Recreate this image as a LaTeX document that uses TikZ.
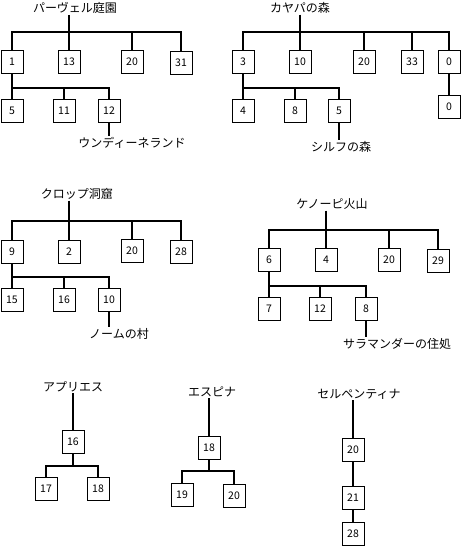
\documentclass[tikz,border=0pt]{standalone}
\usepackage{fontspec}
\setmainfont{Noto Sans CJK JP}
\usetikzlibrary{positioning}

\tikzset{
    box/.style={draw, line width=0.8pt, minimum width=22pt, minimum height=23pt,
        inner sep=0pt, font=\fontsize{10.5}{10.5}\selectfont},
    place/.style={inner sep=1pt, font=\fontsize{12}{12}\selectfont},
    link/.style={line width=2.6pt}
}

\begin{document}
\begin{tikzpicture}[x=1pt, y=-1pt]
        \useasboundingbox (0,0) rectangle (461,547);
        % パーヴェル庭園
        \node [place] (t1) at (75,8) {パーヴェル庭園};
        \coordinate (busA) at (69,32);
        \node [box] (a1) at (12,62) {1};
        \node [box] (a13) at (69,62) {13};
        \node [box] (a20) at (132,62) {20};
        \node [box] (a31) at (181,63) {31};
        \coordinate (busA2) at (12,88);
        \node [box] (a5) at (12,111) {5};
        \node [box] (a11) at (64,111) {11};
        \node [box] (a12) at (109,111) {12};
        \node [place] (u1) at (132,143) {ウンディーネランド};
        \draw [link] (busA |- t1.south) -- (busA);
        \foreach \n in {a1,a13,a20,a31} \draw [link] (\n.north) |- (busA);
        \draw [link] (a1) -- (busA2);
        \foreach \n in {a5,a11,a12} \draw [link] (\n.north) |- (busA2);
        \draw [link] (a12) -- (a12 |- u1.north);
        % カヤパの森
        \node [place] (t2) at (300,8) {カヤパの森};
        \coordinate (busB) at (300,32);
        \node [box] (b3) at (243,62) {3};
        \node [box] (b10) at (300,62) {10};
        \node [box] (b20) at (364,62) {20};
        \node [box] (b33) at (412,62) {33};
        \node [box] (b0) at (449,62) {0};
        \node [box] (b0b) at (449,107) {0};
        \coordinate (busB2) at (243,88);
        \node [box] (b4) at (243,111) {4};
        \node [box] (b8) at (295,111) {8};
        \node [box] (b5) at (339,111) {5};
        \node [place] (s1) at (341,147) {シルフの森};
        \draw [link] (busB |- t2.south) -- (busB);
        \foreach \n in {b3,b10,b20,b33,b0} \draw [link] (\n.north) |- (busB);
        \draw [link] (b0) -- (b0b);
        \draw [link] (b3) -- (busB2);
        \foreach \n in {b4,b8,b5} \draw [link] (\n.north) |- (busB2);
        \draw [link] (b5) -- (b5 |- s1.north);
        % クロップ洞窟
        \node [place] (t3) at (77,194) {クロップ洞窟};
        \coordinate (busC) at (69,221);
        \node [box] (c9) at (12,252) {9};
        \node [box] (c2) at (69,252) {2};
        \node [box] (c20) at (132,251) {20};
        \node [box] (c28) at (181,252) {28};
        \coordinate (busC2) at (12,277);
        \node [box] (c15) at (12,300) {15};
        \node [box] (c16) at (64,300) {16};
        \node [box] (c10) at (109,300) {10};
        \node [place] (n1) at (119,334) {ノームの村};
        \draw [link] (busC |- t3.south) -- (busC);
        \foreach \n in {c9,c2,c20,c28} \draw [link] (\n.north) |- (busC);
        \draw [link] (c9) -- (busC2);
        \foreach \n in {c15,c16,c10} \draw [link] (\n.north) |- (busC2);
        \draw [link] (c10) -- (c10 |- n1.north);
        % ケノーピ火山
        \node [place] (t4) at (332,204) {ケノーピ火山};
        \coordinate (busD) at (326,230);
        \node [box] (d6) at (269,260) {6};
        \node [box] (d4) at (326,260) {4};
        \node [box] (d20) at (389,260) {20};
        \node [box] (d29) at (438,261) {29};
        \coordinate (busD2) at (269,286);
        \node [box] (d7) at (269,309) {7};
        \node [box] (d12) at (320,309) {12};
        \node [box] (d8) at (366,309) {8};
        \node [place] (m1) at (397,344) {サラマンダーの住処};
        \draw [link] (busD |- t4.south) -- (busD);
        \foreach \n in {d6,d4,d20,d29} \draw [link] (\n.north) |- (busD);
        \draw [link] (d6) -- (busD2);
        \foreach \n in {d7,d12,d8} \draw [link] (\n.north) |- (busD2);
        \draw [link] (d8) -- (d8 |- m1.north);
        % アプリエス
        \node [place] (t5) at (73,387) {アプリエス};
        \node [box] (e16) at (73,442) {16};
        \coordinate (busE) at (73,466);
        \node [box] (e17) at (46,489) {17};
        \node [box] (e18) at (98,489) {18};
        \draw [link] (e16 |- t5.south) -- (e16);
        \draw [link] (e16) -- (busE);
        \foreach \n in {e17,e18} \draw [link] (\n.north) |- (busE);
        % エスピナ
        \node [place] (t6) at (212,392) {エスピナ};
        \node [box] (f18) at (209,448) {18};
        \coordinate (busF) at (209,471);
        \node [box] (f19) at (182,495) {19};
        \node [box] (f20) at (234,496) {20};
        \draw [link] (f18 |- t6.south) -- (f18);
        \draw [link] (f18) -- (busF);
        \foreach \n in {f19,f20} \draw [link] (\n.north) |- (busF);
        % セルペンティナ
        \node [place] (t7) at (359,394) {セルペンティナ};
        \node [box] (g20) at (353,450) {20};
        \node [box] (g21) at (353,498) {21};
        \node [box] (g28) at (353,534) {28};
        \draw [link] (g20 |- t7.south) -- (g20);
        \draw [link] (g20) -- (g21);
        \draw [link] (g21) -- (g28);
    \end{tikzpicture}
\end{document}
